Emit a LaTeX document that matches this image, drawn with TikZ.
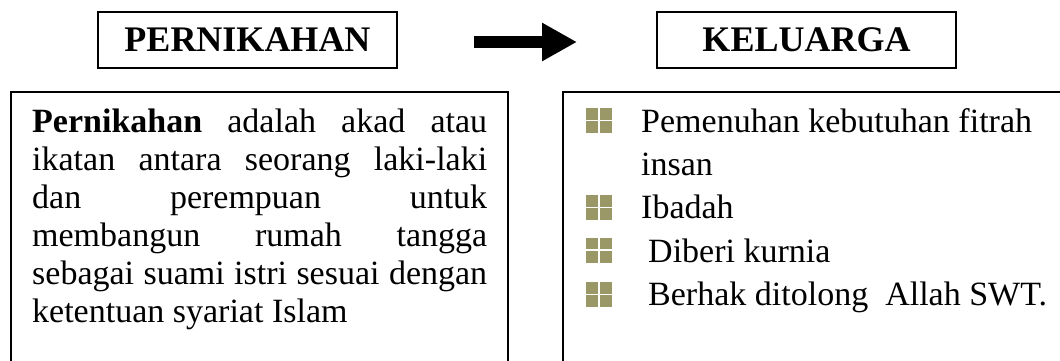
\documentclass[tikz,border=0pt]{standalone}
\usepackage{fontspec}
\setmainfont{Liberation Serif}
\usetikzlibrary{arrows.meta}
\definecolor{olive}{RGB}{155,152,104}
\tikzset{
  titlebox/.style={draw, line width=1.5pt, minimum width=299pt, minimum height=56pt, inner sep=0pt,
    font={\fontsize{36pt}{40pt}\selectfont\bfseries}},
  panel/.style={draw, line width=1.3pt},
  bodytext/.style={inner sep=0pt, font={\fontsize{34pt}{38pt}\selectfont}},
  bul/.style={fill=olive, minimum width=26pt, minimum height=25pt, inner sep=0pt,
    path picture={\draw[white, line width=1.6pt]
      (path picture bounding box.north) -- (path picture bounding box.south)
      (path picture bounding box.west) -- (path picture bounding box.east);}},
  bigarrow/.style={line width=12pt, -{Triangle[width=36pt,length=35pt]}}
}
\begin{document}
\begin{tikzpicture}[x=1pt,y=-1pt]
\useasboundingbox (0,0) rectangle (1060,361);
\clip (0,0) rectangle (1060,361);
\fill[white] (0,0) rectangle (1060,361);
% titles
\node[titlebox] (pern) at (247.5,40) {PERNIKAHAN};
\node[titlebox] (kel) at (806.5,40) {KELUARGA};
% arrow
\coordinate (as) at (474,42);
\coordinate (ae) at (577,42);
\draw[bigarrow] (as) -- (ae);
% panels
\draw[panel] (11,380) -- (11,92) -- (508,92) -- (508,380);
\draw[panel] (563,380) -- (563,92) -- (1075,92) -- (1075,380);
% left text
\node[bodytext, anchor=north west, text width=455pt, align=justify] (def) at (32,108.8)
 {\textbf{Pernikahan} adalah akad atau\linebreak
  ikatan antara seorang laki-laki\linebreak
  dan perempuan untuk\linebreak
  membangun rumah tangga\linebreak
  sebagai suami istri sesuai dengan\linebreak
  ketentuan syariat Islam\par};
% right list
\node[bul] (b1) at (599,120.5) {};
\node[bul] (b2) at (599,207.5) {};
\node[bul] (b3) at (599,250) {};
\node[bul] (b4) at (599,294.5) {};
\node[bodytext, anchor=base west] (t1) at (641,132) {Pemenuhan kebutuhan fitrah};
\node[bodytext, anchor=base west] (t1b) at (641,175) {insan};
\node[bodytext, anchor=base west] (t2) at (641,218) {Ibadah};
\node[bodytext, anchor=base west] (t3) at (648,262) {Diberi kurnia};
\node[bodytext, anchor=base west] (t4) at (648,305) {Berhak ditolong\ \ Allah SWT.};
\end{tikzpicture}
\end{document}
